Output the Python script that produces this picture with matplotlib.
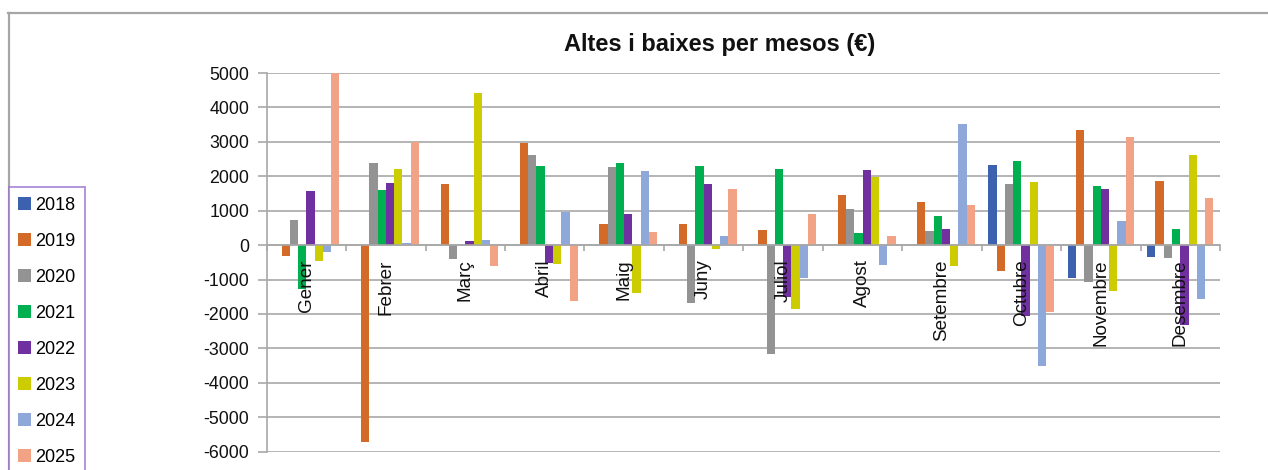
import matplotlib
matplotlib.use("Agg")
import matplotlib.pyplot as plt
from matplotlib.lines import Line2D
from matplotlib.patches import Patch
import numpy as np

plt.rcParams['font.family'] = ['Liberation Sans', 'DejaVu Sans']
plt.rcParams['axes.unicode_minus'] = False

months = ['Gener', 'Febrer', 'Març', 'Abril', 'Maig', 'Juny', 'Juliol',
          'Agost', 'Setembre', 'Octubre', 'Novembre', 'Desembre']
years = ['2018', '2019', '2020', '2021', '2022', '2023', '2024', '2025']

y2018 = [0, 0, 0, 0, 0, 0, 0, 0, 0, 2330, -960, -340]
y2019 = [-330, -5720, 1780, 2970, 600, 600, 435, 1470, 1250, -745, 3330, 1860]
y2020 = [740, 2380, -400, 2630, 2280, -1680, -3170, 1050, 410, 1770, -1070, -370]
y2021 = [-1280, 1600, 0, 2310, 2390, 2300, 2200, 350, 850, 2440, 1730, 470]
y2022 = [1580, 1800, 130, -520, 910, 1770, -1500, 2190, 460, -2070, 1630, -2310]
y2023 = [-470, 2200, 4410, -540, -1400, -120, -1860, 1970, -600, 1840, -1340, 2620]
y2024 = [-210, 70, 140, 960, 2150, 270, -950, -580, 3520, -3520, 710, -1570]
y2025 = [5000, 3000, -600, -1610, 380, 1620, 890, 260, 1180, -1950, 3130, 1370]
series = [y2018, y2019, y2020, y2021, y2022, y2023, y2024, y2025]

colors = ['#3C62AF', '#D46A28', '#939393', '#00B050', '#7030A0',
          '#CCCC00', '#8FA8DA', '#F2A385']

W, H = 1268, 470
fig = plt.figure(figsize=(W / 100, H / 100), dpi=100)

left, right, top, bottom = 266.7, 1220, 73, 451.7
ax = fig.add_axes([left / W, 1 - bottom / H, (right - left) / W, (bottom - top) / H])

x = np.arange(len(months))
bw = 0.104
for i, (vals, c) in enumerate(zip(series, colors)):
    ax.bar(x + (i - 3.5) * bw, vals, width=bw, color=c, zorder=3, label=years[i])

ax.set_xlim(-0.5, len(months) - 0.5)
ax.set_ylim(-6000, 5000)
ax.set_yticks(np.arange(-6000, 5001, 1000))
ax.yaxis.grid(True, color='#A8A8A8', linewidth=1.2, zorder=0)
ax.set_axisbelow(True)

for s in ['top', 'right']:
    ax.spines[s].set_visible(False)
ax.spines['left'].set_color('#A8A8A8')
ax.spines['left'].set_linewidth(1.2)
ax.spines['bottom'].set_position(('data', 0))
ax.spines['bottom'].set_color('#A8A8A8')
ax.spines['bottom'].set_linewidth(1.2)
ax.spines['bottom'].set_zorder(4)

ax.set_xticks(np.arange(-0.5, len(months), 1.0))
ax.set_xticklabels([])
ax.tick_params(axis='x', length=4.5, color='#A8A8A8', width=1.2, direction='out')
ax.tick_params(axis='y', length=6.5, color='#A8A8A8', width=1.2, direction='out',
               labelsize=12.8, pad=6, labelcolor='#111111')

for i, m in enumerate(months):
    ax.annotate(m, xy=(x[i], 0), xytext=(0, -14), textcoords='offset pixels',
                rotation=90, ha='center', va='top', fontsize=13.6,
                color='#111111', zorder=6)

fig.text(720 / W, 1 - 45 / H, 'Altes i baixes per mesos (€)', ha='center',
         va='center', fontsize=17, fontweight='bold', color='#111111')

# outer frame
fig.add_artist(Line2D([8 / W, 1.0], [1 - 13 / H, 1 - 13 / H], transform=fig.transFigure,
                      color='#A6A6A6', linewidth=1.6))
fig.add_artist(Line2D([8.5 / W, 8.5 / W], [0, 1 - 13 / H], transform=fig.transFigure,
                      color='#A6A6A6', linewidth=1.6))

handles = [Patch(facecolor=c, edgecolor='none') for c in colors]
leg = fig.legend(handles, years, loc='upper left',
                 bbox_to_anchor=(8.5 / W, 1 - 187 / H), bbox_transform=fig.transFigure,
                 fontsize=13, frameon=True, fancybox=False, handlelength=0.68,
                 handleheight=0.68, handletextpad=0.25, labelspacing=1.05,
                 borderpad=0.55, borderaxespad=0)
leg.get_frame().set_edgecolor('#9B6FCF')
leg.get_frame().set_linewidth(1.3)

fig.savefig('out.png', dpi=100)
